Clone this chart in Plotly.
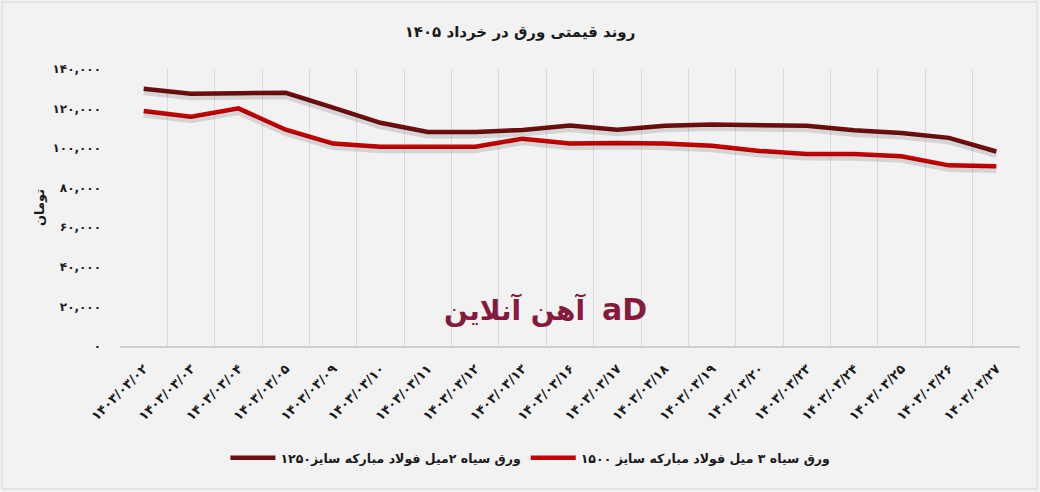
import plotly.graph_objects as go

FA = str.maketrans("0123456789", "۰۱۲۳۴۵۶۷۸۹")

def fa(s):
    return str(s).translate(FA)

days = ["02", "03", "04", "05", "09", "10", "11", "12", "13", "16",
        "17", "18", "19", "20", "23", "24", "25", "26", "27"]
categories = [fa("1403/03/" + d) for d in days]

series_1250 = [130000, 127500, 127800, 128000, 120500, 112800, 108200, 108200, 109200, 111400,
               109300, 111300, 112000, 111600, 111300, 109000, 107700, 105200, 98300]
series_1500 = [118800, 115900, 120100, 109300, 102300, 100700, 100700, 100700, 104800, 102300,
               102600, 102300, 101200, 98600, 97100, 97000, 95900, 91300, 90800]

name_1250 = "ورق سیاه ۲میل فولاد مبارکه سایز۱۲۵۰"
name_1500 = "ورق سیاه ۳ میل فولاد مبارکه سایز ۱۵۰۰"
title_text = "روند قیمتی ورق در خرداد ۱۴۰۵"
y_title = "تومان"
watermark = "آهن آنلاین"

y_ticks = list(range(0, 140001, 20000))
y_ticktext = ["<b>" + fa(f"{v:,}") + "</b>" for v in y_ticks]
x_ticktext = ["<b>" + c + "</b>" for c in categories]

FONT = "DejaVu Sans"
BG = "#f2f2f2"
C_DARK = "#6e0e0e"
C_RED = "#c40000"

fig = go.Figure()

# soft shadows (drawn on a slightly shifted overlay axis)
for vals in (series_1250, series_1500):
    fig.add_trace(go.Scatter(x=categories, y=vals, mode="lines", yaxis="y2",
                             line=dict(color="rgba(0,0,0,0.12)", width=6, shape="linear"),
                             hoverinfo="skip", showlegend=False))

fig.add_trace(go.Scatter(x=categories, y=series_1250, mode="lines", name="<b>" + name_1250 + "</b>",
                         line=dict(color=C_DARK, width=4.5)))
fig.add_trace(go.Scatter(x=categories, y=series_1500, mode="lines", name="<b>" + name_1500 + "</b>",
                         line=dict(color=C_RED, width=4.5)))

fig.update_layout(
    width=1040, height=492,
    paper_bgcolor=BG, plot_bgcolor=BG,
    margin=dict(l=120, r=20, t=69, b=146),
    font=dict(family=FONT, color="#1a1a1a"),
    title=dict(text="<b>" + title_text + "</b>", x=0.5, xanchor="center",
               xref="container", y=1 - 32 / 492, yref="container", yanchor="middle",
               font=dict(size=15, color="#1a1a1a")),
    xaxis=dict(type="category", tickson="boundaries", showgrid=True,
               gridcolor="#dadada", gridwidth=1, tickangle=-45,
               tickvals=categories, ticktext=x_ticktext,
               tickfont=dict(size=13, color="#1a1a1a"), ticklabelstandoff=8,
               showline=True, linecolor="#d0d0d0", linewidth=2,
               ticks="", range=[-0.5, 18.5], zeroline=False),
    yaxis=dict(range=[0, 140000], tickvals=y_ticks, ticktext=y_ticktext,
               showgrid=False, zeroline=False, showline=False,
               tickfont=dict(size=12, color="#1a1a1a"), ticklabelstandoff=18,
               title=dict(text="<b>" + y_title + "</b>", font=dict(size=13), standoff=4)),
    yaxis2=dict(range=[1800, 141800], overlaying="y", visible=False),
    legend=dict(orientation="h", xref="container", x=0.51, xanchor="center",
                yref="container", y=1 - 458 / 492, yanchor="middle",
                font=dict(size=12.5, color="#1a1a1a"), itemwidth=45,
                bgcolor="rgba(0,0,0,0)", traceorder="normal"),
    shapes=[dict(type="rect", xref="paper", yref="paper",
                 x0=-118 / 900, x1=1 + 17 / 900, y0=-143 / 277, y1=1 + 67 / 277,
                 line=dict(color="#d6d6d6", width=1), fillcolor="rgba(0,0,0,0)", layer="below")],
    annotations=[
        dict(text="<b>" + watermark + "</b>", x=(515 - 120) / 900, y=0.06, xref="paper", yref="paper",
             showarrow=False, font=dict(size=28, color="#861a3c", family=FONT)),
        dict(text="<b>aD</b>", x=(624 - 120) / 900, y=0.06, xref="paper", yref="paper",
             showarrow=False, font=dict(size=30, color="#861a3c", family="DejaVu Sans")),
    ],
)

fig.write_html("out.html")
